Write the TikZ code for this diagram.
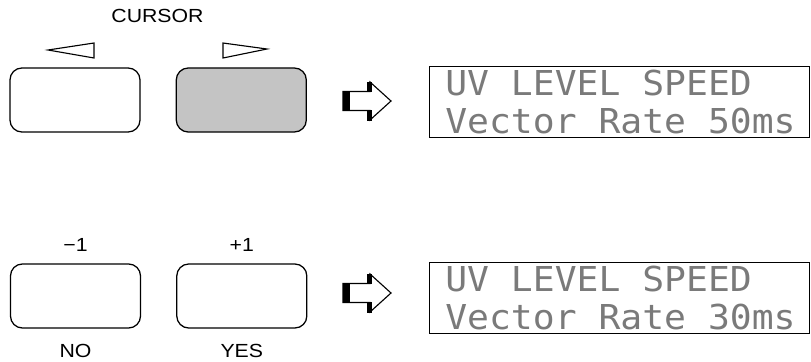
\documentclass[tikz,border=0pt]{standalone}
\usepackage{fontspec}
\setmainfont{Liberation Sans}
\newfontfamily\keyfont[FakeStretch=1.12]{Liberation Sans}
\newfontfamily\lcdfont[FakeStretch=1.06]{DejaVu Sans Mono}
\usepackage{tikz}
\usetikzlibrary{positioning}
\definecolor{lcdgray}{HTML}{7A7A7A}
\definecolor{keyshade}{HTML}{C4C4C4}

\tikzset{
  keybtn/.style={draw, line width=0.9pt, rounded corners=8.5pt, minimum width=3.25cm, minimum height=1.6cm, inner sep=0pt},
  keylabel/.style={font=\keyfont\fontsize{13.5}{15}\selectfont, inner sep=0pt},
  lcdbox/.style={draw, line width=0.7pt, minimum width=9.475cm, minimum height=1.775cm, inner sep=0pt},
  lcdline/.style={font=\lcdfont\fontsize{24.4}{26}\selectfont, text=lcdgray, anchor=base west, inner sep=0pt},
}

\begin{document}
\begin{tikzpicture}[x=0.025cm,y=-0.025cm]
    \useasboundingbox (0,0) rectangle (811,362);
    % cursor keys
    \node[keylabel] (cursor) at (157.5,16) {CURSOR};
    \draw[line width=0.8pt] (48,50) -- (94,43) -- (94,58) -- cycle;
    \draw[line width=0.8pt] (223,43) -- (267,49) -- (223,58) -- cycle;
    \node[keybtn] (btnleft) at (75,100) {};
    \node[keybtn, fill=keyshade, right=0.875cm of btnleft] (btnright) {};
    % value keys
    \node[keybtn] (btnno) at (75.5,296) {};
    \node[keybtn, right=0.875cm of btnno] (btnyes) {};
    \node[keylabel, above=0.28cm of btnno] (minusone) {−1};
    \node[keylabel, above=0.28cm of btnyes] (plusone) {+1};
    \node[keylabel, below=0.38cm of btnno] (nolabel) {NO};
    \node[keylabel, below=0.38cm of btnyes] (yeslabel) {YES};
    % arrows
    \foreach \cy in {101,293} {
      \draw[line width=0.8pt, line join=miter] (343,\cy-9.5) -- (370,\cy-9.5) -- (370,\cy-19)
        -- (391,\cy) -- (370,\cy+19) -- (370,\cy+9.5) -- (343,\cy+9.5) -- cycle;
      \fill (343,\cy-10) rectangle (350,\cy+10);
      \fill (367,\cy-19.5) rectangle (372,\cy-9);
      \fill (367,\cy+9) rectangle (372,\cy+19.5);
    }
    % displays
    \node[lcdbox] (lcdtop) at (619.5,101.5) {};
    \node[lcdline] (toprow1) at (445,95) {UV LEVEL SPEED};
    \node[lcdline] (toprow2) at (445,133) {Vector Rate 50ms};
    \node[lcdbox] (lcdbot) at (619.5,297.5) {};
    \node[lcdline] (botrow1) at (445,291) {UV LEVEL SPEED};
    \node[lcdline] (botrow2) at (445,329) {Vector Rate 30ms};
\end{tikzpicture}
\end{document}
